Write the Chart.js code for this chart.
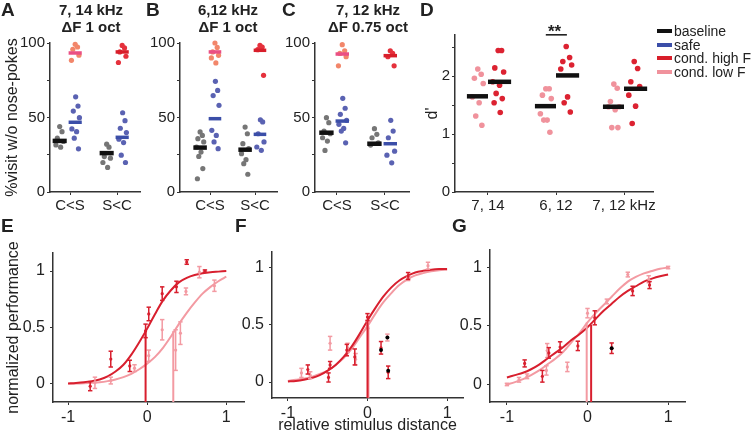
<!DOCTYPE html>
<html>
<head>
<meta charset="utf-8">
<script src="https://cdn.jsdelivr.net/npm/chart.js@4.4.0/dist/chart.umd.min.js"></script>
<style>
  body { margin: 0; background: #fff; width: 755px; height: 436px; position: relative; overflow: hidden;
         font-family: 'Liberation Sans', Arial, sans-serif; color: #222; }
  canvas { position: absolute; }
  .t { position: absolute; white-space: nowrap; }
  .lt { font-weight: bold; font-size: 19px; line-height: 20px; }
  .ti { font-weight: bold; font-size: 15px; line-height: 17px; text-align: center; transform: translateX(-50%); }
  .sw { display: inline-block; width: 15px; height: 4px; vertical-align: middle; margin-right: 2px; position: relative; top: -1px; }
</style>
</head>
<body>
<canvas id="cA" width="150" height="215" style="left:0;top:0"></canvas>
<canvas id="cB" width="150" height="215" style="left:140px;top:0"></canvas>
<canvas id="cC" width="150" height="215" style="left:280px;top:0"></canvas>
<canvas id="cD" width="240" height="215" style="left:420px;top:0"></canvas>
<canvas id="cE" width="250" height="226" style="left:0;top:210px"></canvas>
<canvas id="cF" width="240" height="226" style="left:240px;top:210px"></canvas>
<canvas id="cG" width="300" height="226" style="left:455px;top:210px"></canvas>

<div class="t lt" style="left:1px;top:0">A</div>
<div class="t lt" style="left:146px;top:0">B</div>
<div class="t lt" style="left:282px;top:0">C</div>
<div class="t lt" style="left:420px;top:0">D</div>
<div class="t lt" style="left:1px;top:216px">E</div>
<div class="t lt" style="left:235px;top:216px">F</div>
<div class="t lt" style="left:452px;top:216px">G</div>

<div class="t ti" style="left:91px;top:1px">7, 14 kHz<br>ΔF 1 oct</div>
<div class="t ti" style="left:228px;top:1px">6,12 kHz<br>ΔF 1 oct</div>
<div class="t ti" style="left:368px;top:1px">7, 12 kHz<br>ΔF 0.75 oct</div>
<div class="t" style="left:548px;top:22px;font-size:17px;font-weight:bold">**</div>

<div class="t" style="left:657px;top:25px;font-size:14px;line-height:13.5px">
  <div><span class="sw" style="background:#111"></span>baseline</div>
  <div><span class="sw" style="background:#3b4ea8"></span>safe</div>
  <div><span class="sw" style="background:#d81e2a"></span>cond. high F</div>
  <div><span class="sw" style="background:#f0929c"></span>cond. low F</div>
</div>

<script>
// ---- data ----
const catLabels = ['C<S', 'S<C'];
const dLabels = ['7, 14', '6, 12', '7, 12 kHz'];

// A: 7, 14 kHz  (per category: C<S, S<C)
const aBase = [[43.9, 40.5, 36.1, 33.9, 31.6, 30.1], [32.1, 30.1, 23.8, 22.7, 19.8, 16.5]];
const aSafe = [[63.9, 57.7, 54.3, 49.9, 42.3, 40.5, 36.1, 29.0], [53.2, 47.9, 42.8, 39.9, 35.4, 33.2, 24.7, 19.8]];
const aCond = [[99.1, 97.3, 95.8, 91.8, 88.4], [98.4, 96.7, 94.0, 91.1, 86.9]];
const aBaseMean = [34.3, 26.1];
const aSafeMean = [46.8, 36.7];
const aCondMean = [93.3, 94.0];

// B: 6,12 kHz
const bBase = [[40.3, 38.0, 35.8, 33.6, 30.2, 26.8, 23.9, 15.7, 8.9], [43.6, 39.1, 32.4, 29.1, 25.7, 21.7, 19.0, 11.9]];
const bSafe = [[74.3, 68.2, 64.7, 58.2, 41.4, 38.0, 33.6, 29.1], [48.5, 47.0, 39.1, 33.6, 30.2, 28.0]];
const bCond = [[100, 97.0, 94.0, 91.7, 90.0, 86.6], [98.4, 97.3, 95.5, 78.3]];
const bBaseMean = [29.8, 28.4];
const bSafeMean = [49.2, 38.7];
const bCondMean = [94.0, 95.1];

// C: 7, 12 kHz
const cBase = [[49.9, 46.5, 40.9, 39.1, 36.4, 34.2, 27.9], [42.5, 38.7, 36.4, 33.0, 31.5]];
const cSafe = [[62.9, 56.2, 52.1, 48.1, 45.4, 42.7, 40.9, 33.0], [48.1, 40.9, 36.4, 27.4, 24.7, 19.6]];
const cCond = [[98.9, 94.8, 93.0, 90.8, 84.7], [94.8, 93.0, 90.8, 84.7]];
const cBaseMean = [39.8, 32.4];
const cSafeMean = [47.6, 32.4];
const cCondMean = [92.6, 91.5];

// D: d' per pair
const dLow = [[2.12, 2.03, 1.96, 1.87, 1.64, 1.54, 1.31, 1.15],
              [1.78, 1.78, 1.67, 1.61, 1.35, 1.24, 1.24, 1.03],
              [1.86, 1.79, 1.56, 1.47, 1.47, 1.42, 1.11, 1.11]];
const dHigh = [[2.44, 2.44, 2.14, 2.07, 1.90, 1.84, 1.70, 1.61, 1.54, 1.37],
               [2.51, 2.32, 2.25, 2.19, 2.12, 1.64, 1.54, 1.38],
               [2.25, 2.13, 1.90, 1.82, 1.67, 1.48, 1.18]];
const dLowMean = [1.65, 1.48, 1.47];
const dHighMean = [1.90, 2.01, 1.78];
const dSigLevel = 2.71;

// E-G: psychometric curves
const curveX = [-1, -0.9, -0.8, -0.7, -0.6, -0.5, -0.4, -0.3, -0.2, -0.1, 0, 0.1, 0.2, 0.3, 0.4, 0.5, 0.6, 0.7, 0.8, 0.9, 1];
const eHighCurve = [0.005, 0.009, 0.015, 0.025, 0.04, 0.067, 0.11, 0.17, 0.26, 0.37, 0.49, 0.62, 0.74, 0.83, 0.9, 0.94, 0.965, 0.98, 0.99, 0.995, 1.0];
const eLowCurve = [0.0, 0.003, 0.006, 0.01, 0.015, 0.025, 0.04, 0.06, 0.09, 0.13, 0.18, 0.24, 0.32, 0.42, 0.53, 0.63, 0.72, 0.8, 0.86, 0.91, 0.95];
const fHighCurve = [0.005, 0.01, 0.02, 0.035, 0.06, 0.1, 0.15, 0.22, 0.31, 0.42, 0.54, 0.65, 0.75, 0.83, 0.89, 0.93, 0.96, 0.975, 0.985, 0.99, 0.99];
const fLowCurve = [0.01, 0.02, 0.03, 0.045, 0.07, 0.1, 0.15, 0.21, 0.29, 0.39, 0.49, 0.6, 0.7, 0.78, 0.85, 0.9, 0.935, 0.955, 0.97, 0.98, 0.985];
const gHighCurve = [0.06, 0.08, 0.1, 0.13, 0.17, 0.22, 0.27, 0.32, 0.38, 0.43, 0.49, 0.56, 0.63, 0.69, 0.75, 0.8, 0.84, 0.88, 0.905, 0.925, 0.94];
const gLowCurve = [0.0, 0.02, 0.045, 0.08, 0.12, 0.17, 0.22, 0.28, 0.36, 0.44, 0.53, 0.61, 0.68, 0.75, 0.82, 0.88, 0.92, 0.95, 0.97, 0.99, 1.0];

// thresholds: [x, level]
const eHighThr = [-0.02, 0.48], eLowThr = [0.33, 0.47];
const fHighThr = [0.0, 0.54], fLowThr = [0.012, 0.49];
const gHighThr = [0.045, 0.51], gLowThr = [-0.01, 0.53];

// data points with error (mean, half error)
const eHighX = [-0.72, -0.46, -0.22, -0.02, 0.02, 0.19, 0.37, 0.5, 0.73];
const eHighY = [-0.02, 0.22, 0.16, 0.47, 0.62, 0.8, 0.86, 1.08, 1.0];
const eHighE = [0.04, 0.07, 0.05, 0.06, 0.06, 0.06, 0.05, 0.02, 0.01];
const eLowX = [-0.66, -0.46, -0.16, 0.02, 0.19, 0.36, 0.42, 0.49, 0.66, 0.85];
const eLowY = [0.01, 0.03, 0.14, 0.25, 0.48, 0.3, 0.45, 0.82, 0.99, 0.87];
const eLowE = [0.05, 0.03, 0.03, 0.05, 0.09, 0.18, 0.1, 0.03, 0.05, 0.05];

const fHighX = [-0.75, -0.49, -0.47, -0.26, -0.16, 0.0, 0.17, 0.26, 0.51];
const fHighY = [0.11, 0.04, 0.15, 0.28, 0.22, 0.57, 0.3, 0.085, 0.93];
const fHighE = [0.04, 0.04, 0.03, 0.05, 0.07, 0.03, 0.055, 0.055, 0.03];
const fLowX = [-0.83, -0.72, -0.47, -0.25, -0.15, 0.0, 0.25, 0.51, 0.76];
const fLowY = [0.08, 0.06, 0.34, 0.3, 0.2, 0.5, 0.39, 0.91, 1.02];
const fLowE = [0.04, 0.03, 0.06, 0.04, 0.05, 0.03, 0.03, 0.02, 0.03];
const fBaseX = [0.17, 0.25, 0.26];
const fBaseY = [0.28, 0.39, 0.1];

const gHighX = [-0.78, -0.56, -0.48, -0.34, -0.12, 0.09, 0.3, 0.56, 0.77];
const gHighY = [0.18, 0.07, 0.27, 0.32, 0.33, 0.57, 0.31, 0.8, 0.85];
const gHighE = [0.03, 0.05, 0.045, 0.045, 0.04, 0.06, 0.045, 0.04, 0.03];
const gLowX = [-1, -0.85, -0.75, -0.5, -0.51, -0.25, 0.0, 0.24, 0.5, 0.76, 1.0];
const gLowY = [0.0, 0.04, 0.07, 0.29, 0.12, 0.15, 0.61, 0.71, 0.94, 0.9, 1.0];
const gLowE = [0.01, 0.02, 0.02, 0.06, 0.04, 0.04, 0.04, 0.02, 0.02, 0.03, 0.01];
const gBaseX = [0.3];
const gBaseY = [0.31];

// ---- styles ----
const GRAY = '#767676', BLUE_DOT = '#5a62b2', BLUE_BAR = '#3b4ea8';
const LOW_DOT = '#f2866a', LOW_BAR = '#ea4f84', HIGH_DOT = '#e5313c', HIGH_BAR = '#d81e2a';
const D_LOW = '#f0929c', D_HIGH = '#dc2231';
const C_RED = '#d81f2e', C_PINK = '#f39aa2';
const JIT = [0, 0.05, -0.05, 0.08, -0.08, 0.02, -0.03, 0.06, -0.06, 0.03];

Chart.defaults.font.family = "'Liberation Sans', Arial, sans-serif";
Chart.defaults.font.size = 15;
Chart.defaults.color = '#222';
Chart.defaults.animation = false;

function spread(c, n) { return Array.from({length: n}, (_, i) => c + JIT[i % JIT.length]); }

function dots(xs, ys, color, r) {
  return {data: ys.map((y, i) => ({x: xs[i], y})), showLine: false, pointRadius: r,
          pointBackgroundColor: color, pointBorderWidth: 0, clip: false};
}
function seg(x0, y0, x1, y1, color, w) {
  return {data: [{x: x0, y: y0}, {x: x1, y: y1}], showLine: true, borderColor: color,
          borderWidth: w, pointRadius: 0, clip: false};
}
function curve(ys, color) {
  return {data: ys.map((y, i) => ({x: curveX[i], y})), showLine: true, borderColor: color,
          borderWidth: 2, pointRadius: 0, tension: 0.3, clip: false};
}
function errBars(xs, ys, es, color) {
  const d = [];
  xs.forEach((x, i) => { d.push({x, y: ys[i] - es[i]}, {x, y: ys[i] + es[i]}, {x, y: null}); });
  return {data: d, showLine: true, spanGaps: false, borderColor: color, borderWidth: 1.5,
          pointStyle: 'line', pointRadius: 2.2, pointBorderColor: color, pointBorderWidth: 1.5, clip: false};
}

function scaleOpt(o) {
  const s = {
    type: 'linear', min: o.min, max: o.max,
    grid: {drawOnChartArea: false, drawTicks: true, tickLength: 3, color: '#333'},
    border: {display: true, color: '#333', width: 1.5},
    ticks: {padding: o.tpad || 2, autoSkip: false, maxRotation: 0, font: {size: o.font || 15}, callback: o.label},
    afterBuildTicks: sc => { sc.ticks = o.ticks.map(v => ({value: v})); },
    afterFit: sc => { if (sc.isHorizontal()) sc.height = o.size; else sc.width = o.size; }
  };
  if (o.title) s.title = {display: true, text: o.title, font: {size: 16}, padding: o.titlePad, color: '#222'};
  return s;
}

function makeChart(id, datasets, x, y, pad) {
  return new Chart(document.getElementById(id), {
    type: 'scatter',
    data: {datasets},
    options: {
      responsive: false, animation: false, events: [],
      layout: {padding: pad},
      plugins: {legend: {display: false}, tooltip: {enabled: false}},
      scales: {x: scaleOpt(x), y: scaleOpt(y)}
    }
  });
}

function visitPanel(id, base, safe, cond, baseM, safeM, condM, xmin, yw, padR, ytitle) {
  const ds = [];
  for (let c = 0; c < 2; c++) {
    ds.push(seg(c - 0.37, baseM[c], c - 0.07, baseM[c], '#111', 4.5));
    ds.push(seg(c - 0.03, safeM[c], c + 0.25, safeM[c], BLUE_BAR, 3.5));
    ds.push(seg(c - 0.03, condM[c], c + 0.25, condM[c], c === 0 ? LOW_BAR : HIGH_BAR, 3.5));
    ds.push(dots(spread(c - 0.22, base[c].length), base[c], GRAY, 2.6));
    ds.push(dots(spread(c + 0.12, safe[c].length), safe[c], BLUE_DOT, 2.6));
    ds.push(dots(spread(c + 0.11, cond[c].length), cond[c], c === 0 ? LOW_DOT : HIGH_DOT, 2.6));
  }
  makeChart(id, ds,
    {min: xmin, max: 1.5, ticks: [0, 1], label: v => catLabels[v], size: 23},
    {min: 0, max: 100, ticks: [0, 25, 50, 75, 100], label: v => (v % 50 === 0 ? String(v) : ''),
     size: yw, title: ytitle, titlePad: {top: 3, bottom: 0}},
    {top: 43, right: padR, left: 0, bottom: 0});
}

visitPanel('cA', aBase, aSafe, aCond, aBaseMean, aSafeMean, aCondMean, -0.426, 50, 9.5, '%visit w/o nose-pokes');
visitPanel('cB', bBase, bSafe, bCond, bBaseMean, bSafeMean, bCondMean, -0.667, 40, 12.5);
visitPanel('cC', cBase, cSafe, cCond, cBaseMean, cSafeMean, cCondMean, -0.458, 35, 21);

// D
(function () {
  const ds = [seg(0.85, dSigLevel, 1.16, dSigLevel, '#111', 1.5)];
  for (let c = 0; c < 3; c++) {
    ds.push(seg(c - 0.31, dLowMean[c], c, dLowMean[c], '#111', 4.5));
    ds.push(seg(c, dHighMean[c], c + 0.34, dHighMean[c], '#111', 4.5));
    ds.push(dots(spread(c - 0.15, dLow[c].length), dLow[c], D_LOW, 2.8));
    ds.push(dots(spread(c + 0.15, dHigh[c].length), dHigh[c], D_HIGH, 2.8));
  }
  makeChart('cD', ds,
    {min: -0.485, max: 2.426, ticks: [0, 1, 2], label: v => dLabels[v], size: 23},
    {min: 0, max: 2.707, ticks: [0, 0.5, 1, 1.5, 2, 2.5], label: v => (Number.isInteger(v) ? String(v) : ''),
     size: 35, title: "d'", titlePad: {top: 3, bottom: 0}},
    {top: 35, right: 7, left: 0, bottom: 0});
})();

function psychPanel(id, hi, lo, hiThr, loThr, hiPts, loPts, basePts, ymin, ymax, xmin, xmax, yw, xh, pad, ytitle, xtitle) {
  const ds = [];
  if (basePts) ds.push(dots(basePts[0], basePts[1], '#000', 2));
  ds.push(seg(hiThr[0], ymin, hiThr[0], hiThr[1], C_RED, 2));
  ds.push(seg(loThr[0], ymin, loThr[0], loThr[1], C_PINK, 2));
  ds.push(dots(hiPts[0], hiPts[1], C_RED, 1.6));
  ds.push(errBars(hiPts[0], hiPts[1], hiPts[2], C_RED));
  ds.push(dots(loPts[0], loPts[1], C_PINK, 1.6));
  ds.push(errBars(loPts[0], loPts[1], loPts[2], C_PINK));
  ds.push(curve(hi, C_RED));
  ds.push(curve(lo, C_PINK));
  makeChart(id, ds,
    {min: xmin, max: xmax, ticks: [-1, 0, 1], label: v => String(v), size: xh, tpad: 3, font: 16,
     title: xtitle, titlePad: {top: 0, bottom: 1}},
    {min: ymin, max: ymax, ticks: [0, 0.5, 1], label: v => String(v), size: yw, tpad: 5, font: 16,
     title: ytitle, titlePad: {top: 4, bottom: 0}},
    pad);
}

psychPanel('cE', eHighCurve, eLowCurve, eHighThr, eLowThr,
  [eHighX, eHighY, eHighE], [eLowX, eLowY, eLowE], null,
  -0.16, 1.16, -1.19, 1.23, 53, 34, {top: 43, right: 3, left: 0, bottom: 0}, 'normalized performance');
psychPanel('cF', fHighCurve, fLowCurve, fHighThr, fLowThr,
  [fHighX, fHighY, fHighE], [fLowX, fLowY, fLowE], [fBaseX, fBaseY],
  -0.14, 1.14, -1.2, 1.2, 32, 38, {top: 42, right: 17, left: 0, bottom: 0}, undefined, 'relative stimulus distance');
psychPanel('cG', gHighCurve, gLowCurve, gHighThr, gLowThr,
  [gHighX, gHighY, gHighE], [gLowX, gLowY, gLowE], [gBaseX, gBaseY],
  -0.15, 1.15, -1.21, 1.21, 35, 34, {top: 40, right: 70, left: 0, bottom: 0});
</script>
</body>
</html>
